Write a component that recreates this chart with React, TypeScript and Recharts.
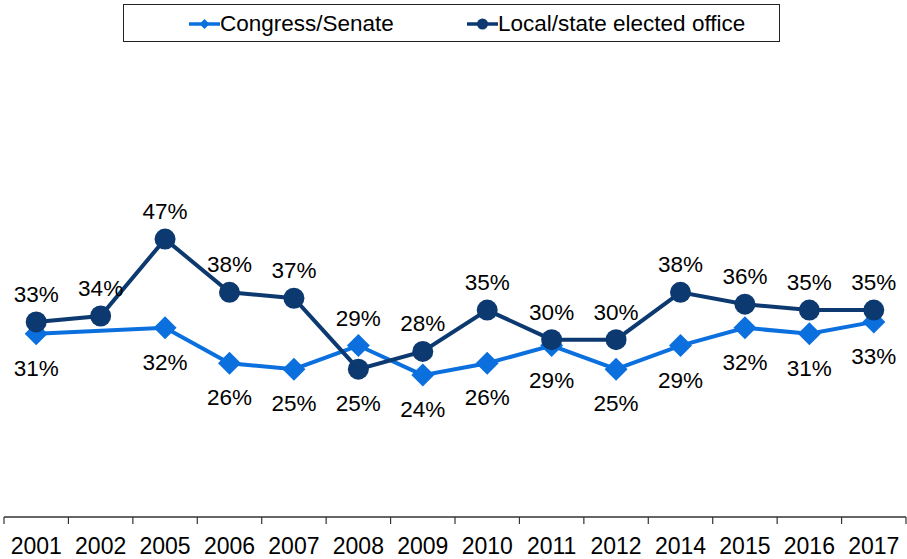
import React from "react";
import { LineChart, Line, XAxis, YAxis, LabelList } from "recharts";

const years = ["2001", "2002", "2005", "2006", "2007", "2008", "2009", "2010", "2011", "2012", "2014", "2015", "2016", "2017"];
const congress = [31, null, 32, 26, 25, 29, 24, 26, 29, 25, 29, 32, 31, 33];
const local = [33, 34, 47, 38, 37, 25, 28, 35, 30, 30, 38, 36, 35, 35];
// label placement exceptions
const congressLabelAbove = ["2008"];
const localLabelBelow = ["2008"];

const data = years.map((year, i) => ({ year, congress: congress[i], local: local[i] }));

const W = 907;
const H = 559;
const M = { top: 44, right: 1, bottom: 0, left: 4 };
const AXIS_H = 42;
const BAND = (W - M.left - M.right) / years.length;
const FONT = "'Liberation Sans', Arial, sans-serif";
const C_CONGRESS = "#0B70DE";
const C_LOCAL = "#0C396F";

const Diamond = (props: any) => {
  const { cx, cy, index } = props;
  if (cx == null || cy == null || congress[index] == null) return <g key={index} />;
  const h = 11.5;
  return <polygon key={index} points={`${cx},${cy - h} ${cx + h},${cy} ${cx},${cy + h} ${cx - h},${cy}`} fill={C_CONGRESS} />;
};

const Circle = (props: any) => {
  const { cx, cy, index } = props;
  if (cx == null || cy == null) return <g key={index} />;
  return <circle key={index} cx={cx} cy={cy} r={10.5} fill={C_LOCAL} />;
};

const makeLabel = (below: (yr: string) => boolean) => (props: any) => {
  const { x, y, value, index } = props;
  if (value == null) return null;
  const isBelow = below(years[index]);
  return (
    <text x={x} y={isBelow ? y + 42 : y - 20} textAnchor="middle" fontSize={22.5} fontFamily={FONT} fill="#000">
      {value}%
    </text>
  );
};

const XTick = (props: any) => {
  const { x, y, payload, index } = props;
  const left = x - BAND / 2;
  return (
    <g>
      <line x1={left} y1={y} x2={left} y2={y + 7} stroke="#333" strokeWidth={1.2} />
      {index === years.length - 1 && <line x1={x + BAND / 2} y1={y} x2={x + BAND / 2} y2={y + 7} stroke="#333" strokeWidth={1.2} />}
      <text x={x} y={y + 37} textAnchor="middle" fontSize={23} fontFamily={FONT} fill="#000">
        {payload.value}
      </text>
    </g>
  );
};

const LegendIcon = ({ color, kind }: { color: string; kind: "diamond" | "circle" }) => (
  <svg width={31} height={14} style={{ verticalAlign: "middle" }}>
    <line x1={0} y1={7} x2={31} y2={7} stroke={color} strokeWidth={3.5} />
    {kind === "diamond" ? <polygon points="15.5,2 20.5,7 15.5,12 10.5,7" fill={color} /> : <circle cx={15.5} cy={7} r={5.5} fill={color} />}
  </svg>
);

export default function App() {
  return (
    <div style={{ position: "absolute", left: 0, top: 0, width: W, height: H, background: "#fff" }}>
      <LineChart width={W} height={H} data={data} margin={M}>
        <XAxis
          dataKey="year"
          height={AXIS_H}
          padding={{ left: BAND / 2, right: BAND / 2 }}
          tickSize={0}
          tickMargin={0}
          tickLine={false}
          axisLine={{ stroke: "#333", strokeWidth: 1.5 }}
          tick={<XTick />}
          interval={0}
        />
        <YAxis hide domain={[0, 80]} />
        <Line
          dataKey="congress"
          stroke={C_CONGRESS}
          strokeWidth={4}
          connectNulls
          dot={<Diamond />}
          activeDot={false}
          isAnimationActive={false}
        >
          <LabelList dataKey="congress" content={makeLabel((yr) => !congressLabelAbove.includes(yr))} />
        </Line>
        <Line
          dataKey="local"
          stroke={C_LOCAL}
          strokeWidth={4}
          dot={<Circle />}
          activeDot={false}
          isAnimationActive={false}
        >
          <LabelList dataKey="local" content={makeLabel((yr) => localLabelBelow.includes(yr))} />
        </Line>
      </LineChart>
      <div
        style={{
          position: "absolute",
          left: 123,
          top: 4,
          width: 655,
          height: 36,
          border: "1.5px solid #222",
          fontFamily: FONT,
          fontSize: 22.5,
          lineHeight: "36px",
          whiteSpace: "nowrap",
        }}
      >
        <span style={{ position: "absolute", left: 65 }}>
          <LegendIcon color={C_CONGRESS} kind="diamond" />
          <span style={{ verticalAlign: "middle" }}>Congress/Senate</span>
        </span>
        <span style={{ position: "absolute", left: 343 }}>
          <LegendIcon color={C_LOCAL} kind="circle" />
          <span style={{ verticalAlign: "middle" }}>Local/state elected office</span>
        </span>
      </div>
    </div>
  );
}
